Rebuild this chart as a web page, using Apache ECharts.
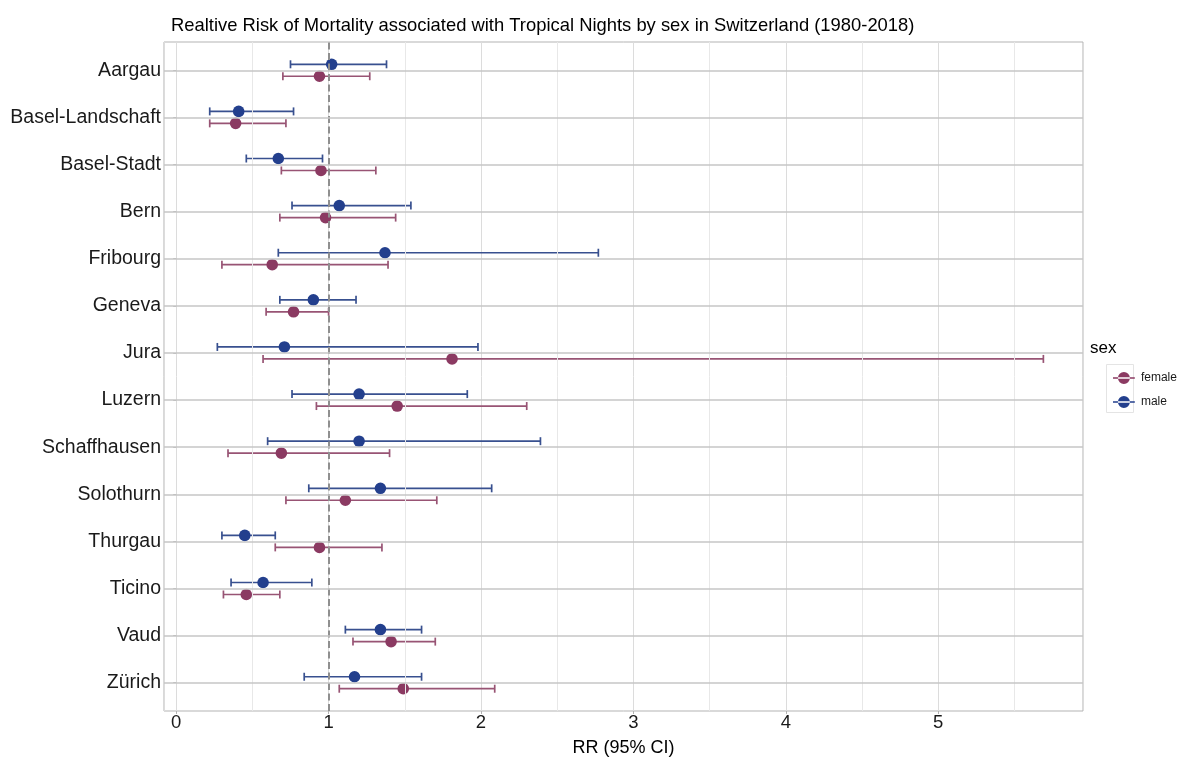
<!DOCTYPE html>
<html>
<head>
<meta charset="utf-8">
<script src="https://cdn.jsdelivr.net/npm/echarts@6/dist/echarts.min.js"></script>
<style>
  html, body { margin: 0; padding: 0; background: #fff; }
  #chart { width: 1180px; height: 760px; }
</style>
</head>
<body>
<div id="chart"></div>
<script>
// Cantons, top to bottom
const cantons = ['Aargau', 'Basel-Landschaft', 'Basel-Stadt', 'Bern', 'Fribourg', 'Geneva', 'Jura',
  'Luzern', 'Schaffhausen', 'Solothurn', 'Thurgau', 'Ticino', 'Vaud', 'Zürich'];

// Relative risk estimates with 95% confidence bounds
const femaleRR    = [0.94, 0.39, 0.95, 0.98, 0.63, 0.77, 1.81, 1.45, 0.69, 1.11, 0.94, 0.46, 1.41, 1.49];
const femaleLower = [0.70, 0.22, 0.69, 0.68, 0.30, 0.59, 0.57, 0.92, 0.34, 0.72, 0.65, 0.31, 1.16, 1.07];
const femaleUpper = [1.27, 0.72, 1.31, 1.44, 1.39, 1.00, 5.69, 2.30, 1.40, 1.71, 1.35, 0.68, 1.70, 2.09];

const maleRR    = [1.02, 0.41, 0.67, 1.07, 1.37, 0.90, 0.71, 1.20, 1.20, 1.34, 0.45, 0.57, 1.34, 1.17];
const maleLower = [0.75, 0.22, 0.46, 0.76, 0.67, 0.68, 0.27, 0.76, 0.60, 0.87, 0.30, 0.36, 1.11, 0.84];
const maleUpper = [1.38, 0.77, 0.96, 1.54, 2.77, 1.18, 1.98, 1.91, 2.39, 2.07, 0.65, 0.89, 1.61, 1.61];

// x tick labels and half-step grid positions
const xTicks = [0, 1, 2, 3, 4, 5];
const xMinorGrid = [0.5, 1.5, 2.5, 3.5, 4.5, 5.5];

const X_MIN = -0.08, X_MAX = 5.95;
const FEMALE_POINT = '#8b3a62', FEMALE_LINE = '#985474';
const MALE_POINT = '#233f8d', MALE_LINE = '#38508f';
const FONT = '"Liberation Sans", Arial, Helvetica, sans-serif';

// Panel edges; the canton rows sit inside with a 0.6-row margin at both ends
const PANEL = { left: 164, right: 97, top: 42, bottom: 49 };
const ROW = (760 - PANEL.top - PANEL.bottom) / (cantons.length - 1 + 1.2);
const PAD = ROW * 0.1;

function rows(rr, lo, hi) {
  return cantons.map((c, i) => [i, rr[i], lo[i], hi[i]]);
}

// Point + error bar, dodged vertically within the canton band
function pointRange(offsetFrac, pointColor, lineColor) {
  return function (params, api) {
    const idx = api.value(0);
    const band = api.size([0, 1])[1];
    const dy = band * offsetFrac;
    const p = api.coord([api.value(1), idx]);
    const lo = api.coord([api.value(2), idx]);
    const hi = api.coord([api.value(3), idx]);
    const y = p[1] + dy;
    const cap = 4;
    const ls = { stroke: lineColor, lineWidth: 1.7 };
    return {
      type: 'group',
      children: [
        { type: 'line', shape: { x1: lo[0], y1: y, x2: hi[0], y2: y }, style: ls },
        { type: 'line', shape: { x1: lo[0], y1: y - cap, x2: lo[0], y2: y + cap }, style: ls },
        { type: 'line', shape: { x1: hi[0], y1: y - cap, x2: hi[0], y2: y + cap }, style: ls },
        { type: 'circle', shape: { cx: p[0], cy: y, r: 5.8 }, style: { fill: pointColor } }
      ]
    };
  };
}

const legendIcon = 'path://M0,4.3H20V5.7H0Z M4.5,5A5.5,5.5 0 1,0 15.5,5A5.5,5.5 0 1,0 4.5,5Z';

const chart = echarts.init(document.getElementById('chart'), null, { renderer: 'canvas' });

chart.setOption({
  animation: false,
  backgroundColor: '#ffffff',
  title: {
    text: 'Realtive Risk of Mortality associated with Tropical Nights by sex in Switzerland (1980-2018)',
    left: 166, top: 12,
    textStyle: { fontFamily: FONT, fontSize: 18.4, fontWeight: 'normal', color: '#000' }
  },
  legend: {
    orient: 'vertical',
    left: 1108, top: 367,
    itemWidth: 24, itemHeight: 12, itemGap: 12,
    data: [
      { name: 'female', icon: legendIcon, itemStyle: { color: FEMALE_POINT } },
      { name: 'male', icon: legendIcon, itemStyle: { color: MALE_POINT } }
    ],
    textStyle: { fontFamily: FONT, fontSize: 12, color: '#1a1a1a' }
  },
  graphic: [
    { type: 'text', left: 1090, top: 340,
      style: { text: 'sex', font: '17px ' + FONT, fill: '#000' } },
    { type: 'rect', shape: { x: 1106.5, y: 364.5, width: 27, height: 48 },
      style: { fill: 'none', stroke: '#e4e4e4', lineWidth: 1 } }
  ],
  grid: [
    // panel: border, vertical grid, x axis
    { left: PANEL.left, right: PANEL.right, top: PANEL.top, bottom: PANEL.bottom,
      outerBoundsMode: 'none', containLabel: false,
      show: true, borderColor: '#b3b3b3', borderWidth: 1 },
    // canton rows
    { left: PANEL.left, right: PANEL.right, top: PANEL.top + PAD, bottom: PANEL.bottom + PAD,
      outerBoundsMode: 'none', containLabel: false }
  ],
  xAxis: [
    {
      gridIndex: 0,
      type: 'value',
      min: X_MIN, max: X_MAX,
      minInterval: 1, maxInterval: 1,
      name: 'RR (95% CI)', nameLocation: 'middle', nameGap: 28,
      nameTextStyle: { fontFamily: FONT, fontSize: 18, color: '#000' },
      axisLine: { show: false },
      axisTick: { show: true, length: 3, lineStyle: { color: '#b3b3b3' } },
      axisLabel: {
        showMinLabel: false, showMaxLabel: false, margin: 2,
        fontFamily: FONT, fontSize: 18.5, color: '#1a1a1a',
        formatter: v => xTicks.includes(Math.round(v * 100) / 100) ? String(v) : ''
      },
      splitLine: { show: true, lineStyle: { color: '#dcdcdc', width: 1 } }
    },
    {
      gridIndex: 1,
      type: 'value',
      min: X_MIN, max: X_MAX,
      minInterval: 1, maxInterval: 1,
      show: false,
      splitLine: { show: false }
    }
  ],
  yAxis: [
    {
      gridIndex: 0,
      type: 'value', min: 0, max: 1,
      show: false, splitLine: { show: false }
    },
    {
      gridIndex: 1,
      type: 'category',
      data: cantons,
      inverse: true,
      axisLine: { show: false },
      axisTick: { show: true, alignWithLabel: true, length: 3, lineStyle: { color: '#b3b3b3' } },
      axisLabel: { fontFamily: FONT, fontSize: 19.5, color: '#1a1a1a', margin: 3 },
      splitLine: { show: false }
    }
  ],
  series: [
    {
      // half-step verticals and the RR = 1 reference across the full panel
      type: 'custom', silent: true,
      xAxisIndex: 0, yAxisIndex: 0,
      renderItem: () => null, data: [], z: 1,
      markLine: {
        silent: true, symbol: 'none', label: { show: false },
        data: [
          ...xMinorGrid.map(v => ({ xAxis: v, lineStyle: { color: '#e8e8e8', width: 1, type: 'solid' } })),
          { xAxis: 1, lineStyle: { color: '#8f8f8f', width: 2, type: [7, 3.5] } }
        ]
      }
    },
    {
      // canton row lines
      type: 'custom', silent: true,
      xAxisIndex: 1, yAxisIndex: 1,
      renderItem: () => null, data: [], z: 1,
      markLine: {
        silent: true, symbol: 'none', label: { show: false },
        data: cantons.map(c => ({ yAxis: c, lineStyle: { color: '#c6c6c6', width: 1.6, type: 'solid' } }))
      }
    },
    {
      name: 'female', type: 'custom', z: 3,
      xAxisIndex: 1, yAxisIndex: 1,
      itemStyle: { color: FEMALE_POINT },
      renderItem: pointRange(0.127, FEMALE_POINT, FEMALE_LINE),
      encode: { x: [1, 2, 3], y: 0 },
      data: rows(femaleRR, femaleLower, femaleUpper)
    },
    {
      name: 'male', type: 'custom', z: 4,
      xAxisIndex: 1, yAxisIndex: 1,
      itemStyle: { color: MALE_POINT },
      renderItem: pointRange(-0.127, MALE_POINT, MALE_LINE),
      encode: { x: [1, 2, 3], y: 0 },
      data: rows(maleRR, maleLower, maleUpper)
    }
  ]
});
</script>
</body>
</html>
